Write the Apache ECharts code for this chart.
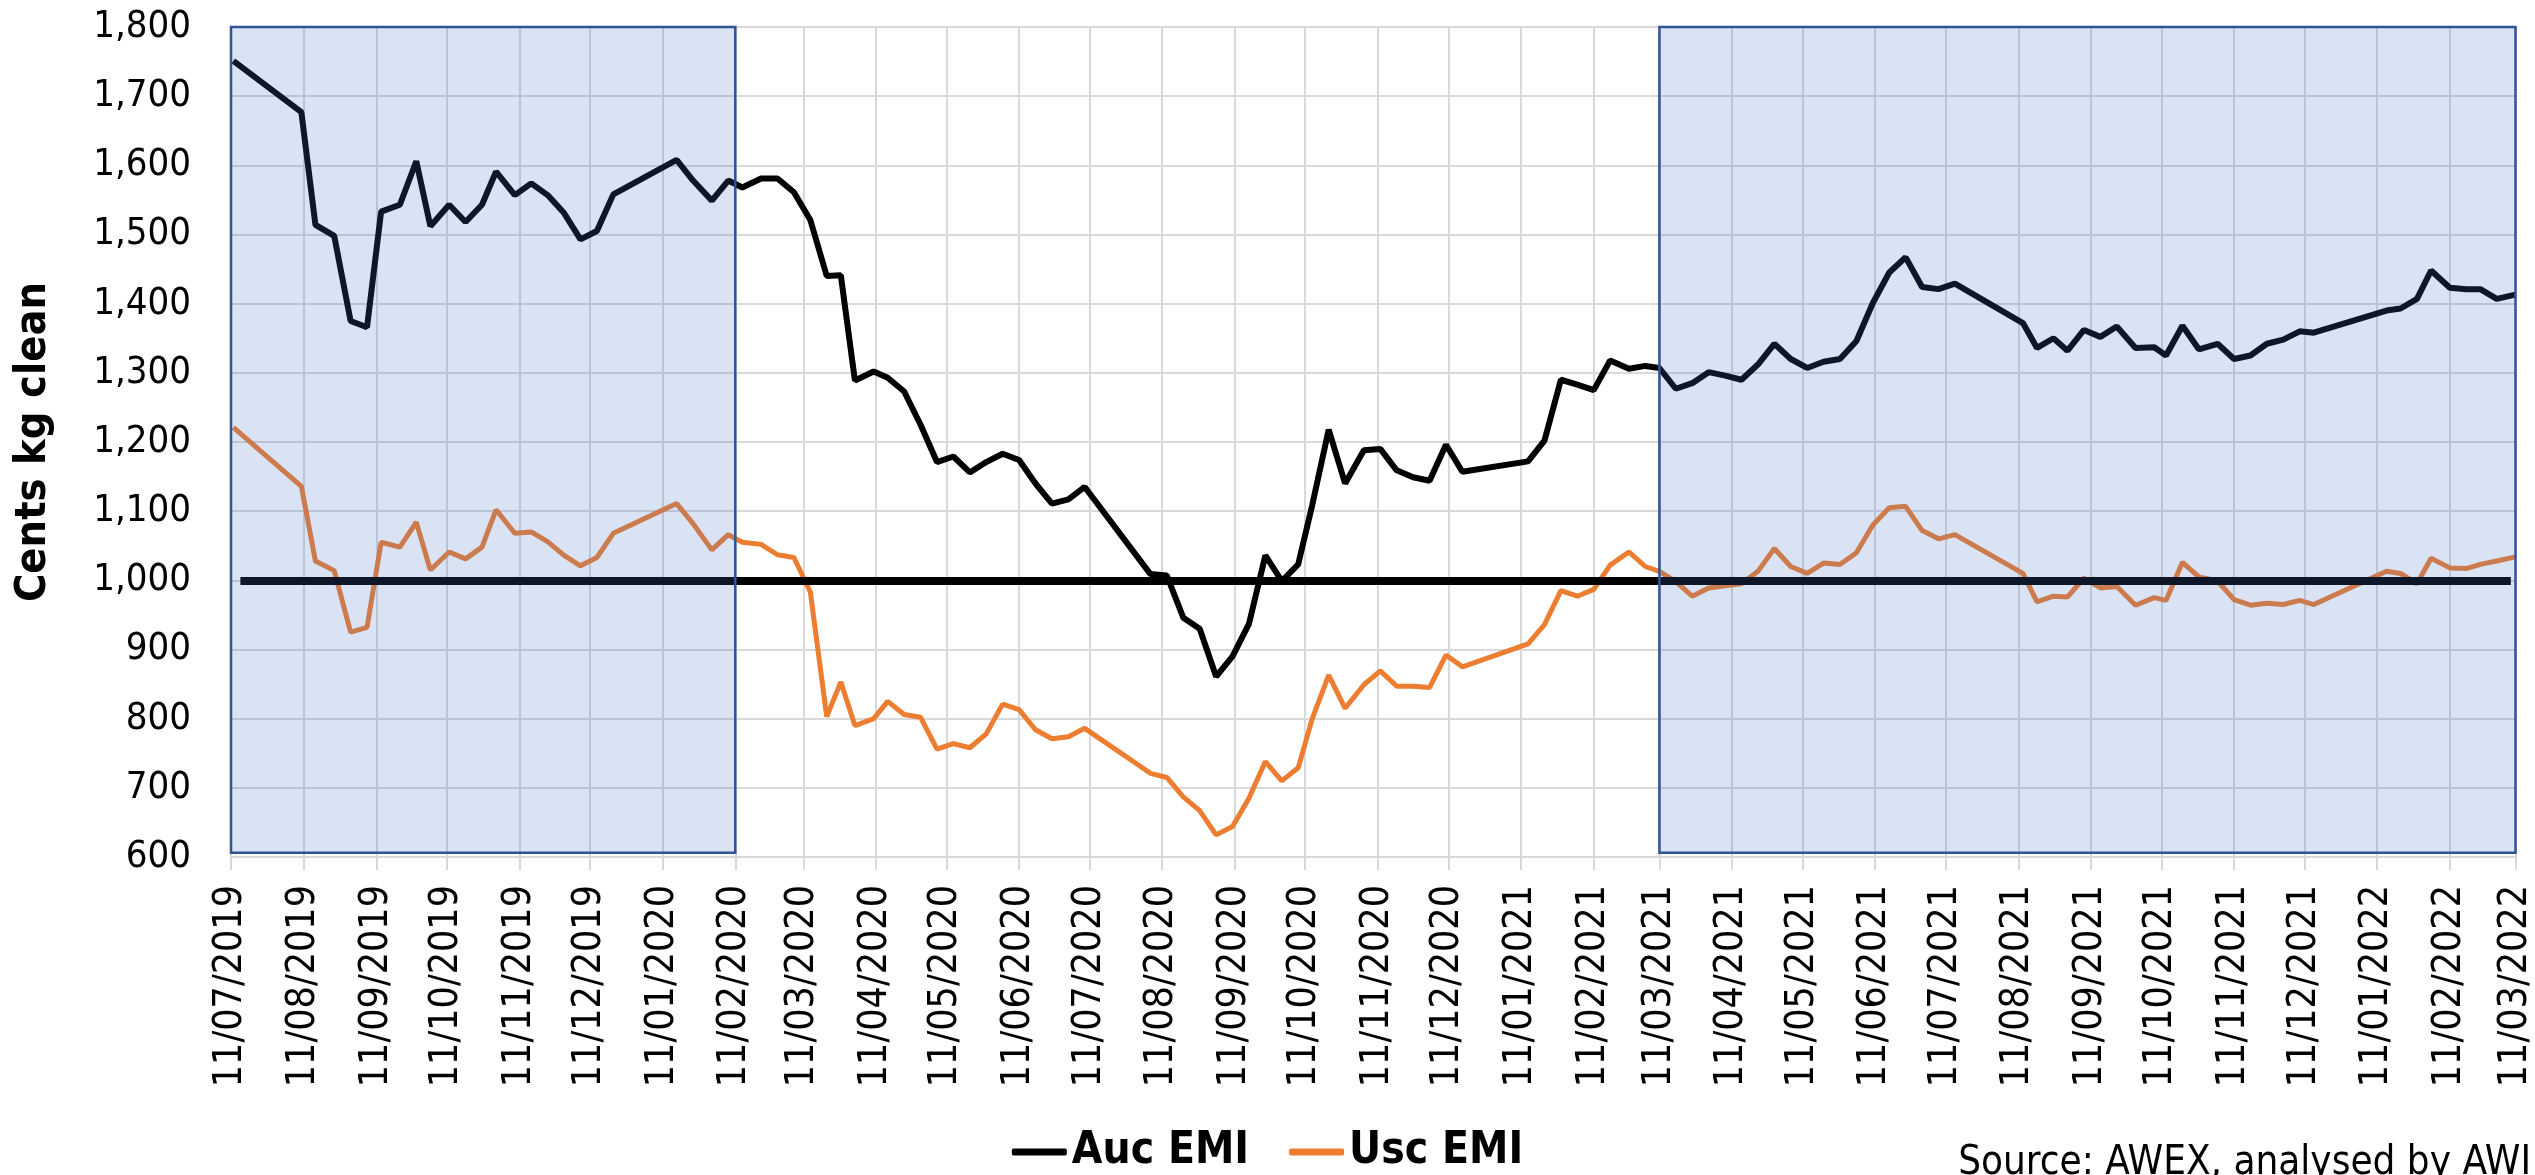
<!DOCTYPE html>
<html>
<head>
<meta charset="utf-8">
<title>Auc EMI vs Usc EMI</title>
<script src="https://cdn.jsdelivr.net/npm/echarts@6/dist/echarts.min.js"></script>
<style>
    html, body { margin: 0; padding: 0; background: #fff; }
    #emiChart { width: 2535px; height: 1175px; }
</style>
</head>
<body>
<div id="emiChart"></div>
<script>
    // sale dates (dd/mm/yyyy) and indicator values, c/kg clean
    const saleDates = [
        '12/07/2019', '10/08/2019', '16/08/2019', '24/08/2019', '31/08/2019', '07/09/2019', '13/09/2019', '21/09/2019',
        '28/09/2019', '04/10/2019', '12/10/2019', '19/10/2019', '26/10/2019', '01/11/2019', '09/11/2019', '16/11/2019',
        '23/11/2019', '30/11/2019', '07/12/2019', '14/12/2019', '21/12/2019', '17/01/2020', '24/01/2020', '01/02/2020',
        '08/02/2020', '14/02/2020', '22/02/2020', '29/02/2020', '07/03/2020', '14/03/2020', '21/03/2020', '27/03/2020',
        '02/04/2020', '10/04/2020', '16/04/2020', '23/04/2020', '30/04/2020', '07/05/2020', '14/05/2020', '21/05/2020',
        '28/05/2020', '04/06/2020', '11/06/2020', '18/06/2020', '25/06/2020', '02/07/2020', '09/07/2020', '06/08/2020',
        '13/08/2020', '20/08/2020', '27/08/2020', '03/09/2020', '10/09/2020', '17/09/2020', '24/09/2020', '01/10/2020',
        '08/10/2020', '14/10/2020', '21/10/2020', '28/10/2020', '05/11/2020', '12/11/2020', '19/11/2020', '26/11/2020',
        '03/12/2020', '10/12/2020', '17/12/2020', '14/01/2021', '21/01/2021', '28/01/2021', '04/02/2021', '11/02/2021',
        '18/02/2021', '26/02/2021', '05/03/2021', '11/03/2021', '18/03/2021', '25/03/2021', '01/04/2021', '08/04/2021',
        '15/04/2021', '22/04/2021', '29/04/2021', '06/05/2021', '13/05/2021', '20/05/2021', '27/05/2021', '03/06/2021',
        '10/06/2021', '17/06/2021', '24/06/2021', '01/07/2021', '08/07/2021', '15/07/2021', '13/08/2021', '19/08/2021',
        '26/08/2021', '01/09/2021', '08/09/2021', '15/09/2021', '22/09/2021', '30/09/2021', '08/10/2021', '13/10/2021',
        '20/10/2021', '27/10/2021', '04/11/2021', '11/11/2021', '18/11/2021', '25/11/2021', '02/12/2021', '09/12/2021',
        '15/12/2021', '15/01/2022', '21/01/2022', '28/01/2022', '03/02/2022', '11/02/2022', '18/02/2022', '24/02/2022',
        '03/03/2022', '11/03/2022'
    ]
    const aucEmi = [
        1751, 1677, 1514, 1498, 1375, 1366, 1533, 1543,
        1606, 1512, 1543, 1518, 1543, 1591, 1557, 1574,
        1557, 1531, 1493, 1505, 1558, 1608, 1578, 1549,
        1578, 1568, 1581, 1581, 1561, 1521, 1440, 1441,
        1289, 1302, 1293, 1273, 1225, 1171, 1179, 1156,
        1171, 1183, 1174, 1140, 1111, 1117, 1135, 1009,
        1007, 946, 930, 861, 890, 937, 1036, 999,
        1023, 1109, 1218, 1140, 1188, 1190, 1159, 1149,
        1144, 1196, 1157, 1172, 1202, 1290, 1283, 1275,
        1318, 1306, 1310, 1307, 1277, 1285, 1301, 1296,
        1290, 1312, 1342, 1320, 1307, 1316, 1320, 1346,
        1401, 1445, 1467, 1424, 1421, 1429, 1372, 1336,
        1350, 1332, 1362, 1352, 1367, 1336, 1337, 1325,
        1368, 1334, 1342, 1320, 1325, 1342, 1348, 1360,
        1358, 1390, 1393, 1407, 1448, 1423, 1421, 1421,
        1407, 1413
    ]
    const uscEmi = [
        1221, 1136, 1028, 1014, 925, 932, 1055, 1048,
        1084, 1015, 1041, 1031, 1048, 1102, 1068, 1070,
        1056, 1036, 1021, 1033, 1068, 1111, 1082, 1044,
        1066, 1055, 1052, 1037, 1033, 983, 803, 853,
        790, 800, 825, 806, 802, 756, 764, 758,
        778, 821, 813, 784, 771, 774, 786, 721,
        715, 687, 667, 632, 644, 685, 738, 710,
        729, 800, 863, 815, 849, 869, 847, 847,
        845, 892, 875, 908, 936, 985, 977, 987,
        1022, 1041, 1020, 1013, 998, 977, 989, 992,
        995, 1013, 1046, 1020, 1010, 1025, 1023, 1040,
        1080, 1105, 1107, 1072, 1060, 1066, 1010, 969,
        977, 976, 1003, 989, 991, 964, 975, 971,
        1026, 1005, 999, 972, 964, 967, 965, 971,
        965, 1013, 1010, 995, 1032, 1018, 1017, 1023,
        1028, 1034
    ]
    const yTicks = { min: 600, max: 1800, step: 100 }
    const axisStart = '11/07/2019'
    const axisEnd = '11/03/2022'
    // shaded periods and the 1000c reference line
    const shadedPeriods = [['11/07/2019', '11/02/2020'], ['11/03/2021', '11/03/2022']]
    const refLevel = 1000
    const refFrom = '15/07/2019'
    const refTo = '09/03/2022'

    const labelFont = "'DejaVu Sans Condensed', 'Liberation Sans', sans-serif"

    function parseDate(s) {
        let p = s.split('/')
        return Date.UTC(+p[2], +p[1] - 1, +p[0])
    }
    function fmtDate(t) {
        let d = new Date(t)
        return String(d.getUTCDate()).padStart(2, '0') + '/' +
            String(d.getUTCMonth() + 1).padStart(2, '0') + '/' + d.getUTCFullYear()
    }

    // one category per calendar day so months get their real width
    let days = []
    for (let t = parseDate(axisStart); t <= parseDate(axisEnd); t += 86400000) {
        days.push(fmtDate(t))
    }
    let dayIndex = {}
    days.forEach((d, i) => dayIndex[d] = i)

    function toDaily(values) {
        let arr = new Array(days.length).fill(null)
        saleDates.forEach((d, i) => arr[dayIndex[d]] = values[i])
        return arr
    }

    const onEleventh = (index, value) => value.slice(0, 2) === '11'

    let myChart = echarts.init(document.getElementById('emiChart'))
    let options = {
        animation: false,
        grid: {
            left: 231,
            right: 18,
            top: 27,
            bottom: 318
        },
        legend: {
            data: ['Auc EMI', 'Usc EMI'],
            left: 'center',
            top: 1125,
            icon: 'roundRect',
            itemWidth: 55,
            itemHeight: 7,
            itemGap: 40,
            textStyle: {
                fontFamily: labelFont,
                fontWeight: 'bold',
                fontSize: 44,
                color: '#000'
            }
        },
        xAxis: {
            type: 'category',
            boundaryGap: false,
            data: days,
            axisLine: { lineStyle: { color: '#d9d9d9', width: 2 } },
            axisTick: {
                interval: onEleventh,
                length: 13,
                lineStyle: { color: '#d9d9d9', width: 2 }
            },
            axisLabel: {
                interval: onEleventh,
                rotate: 90,
                margin: 28,
                fontFamily: labelFont,
                fontSize: 39,
                color: '#000'
            },
            splitLine: {
                show: true,
                interval: onEleventh,
                lineStyle: { color: '#d9d9d9', width: 2 }
            }
        },
        yAxis: {
            type: 'value',
            min: yTicks.min,
            max: yTicks.max,
            interval: yTicks.step,
            name: 'Cents kg clean',
            nameLocation: 'middle',
            nameRotate: 90,
            nameGap: 176,
            nameTextStyle: {
                fontFamily: labelFont,
                fontWeight: 'bold',
                fontSize: 43,
                color: '#000'
            },
            axisLine: { show: false },
            axisTick: { show: false },
            axisLabel: {
                margin: 40,
                fontFamily: labelFont,
                fontSize: 38,
                color: '#000',
                formatter: v => v.toLocaleString('en-US')
            },
            splitLine: { lineStyle: { color: '#d9d9d9', width: 2 } }
        },
        series: [{
            name: 'Auc EMI',
            type: 'line',
            data: toDaily(aucEmi),
            connectNulls: true,
            showSymbol: false,
            symbol: 'none',
            color: '#000000',
            lineStyle: { width: 6, color: '#000000' },
            // blue boxes sit above the lines, like the original
            markArea: {
                silent: true,
                z: 10,
                itemStyle: {
                    color: 'rgba(68, 114, 196, 0.2)',
                    borderColor: '#2f5597',
                    borderWidth: 2.5
                },
                data: shadedPeriods.map(p => [
                    { xAxis: p[0], yAxis: 606 },
                    { xAxis: p[1], yAxis: 1803 }
                ])
            }
        }, {
            name: 'Usc EMI',
            type: 'line',
            data: toDaily(uscEmi),
            connectNulls: true,
            showSymbol: false,
            symbol: 'none',
            color: '#ED7D31',
            lineStyle: { width: 5, color: '#ED7D31' },
            markLine: {
                silent: true,
                symbol: 'none',
                label: { show: false },
                lineStyle: { color: '#000', width: 8, type: 'solid' },
                data: [[
                    { coord: [refFrom, refLevel] },
                    { coord: [refTo, refLevel] }
                ]]
            }
        }],
        graphic: [{
            type: 'text',
            right: 4,
            top: 1144,
            style: {
                text: 'Source: AWEX, analysed by AWI',
                fontFamily: labelFont,
                fontSize: 40,
                fill: '#000'
            }
        }]
    }
    myChart.setOption(options)
</script>
</body>
</html>
